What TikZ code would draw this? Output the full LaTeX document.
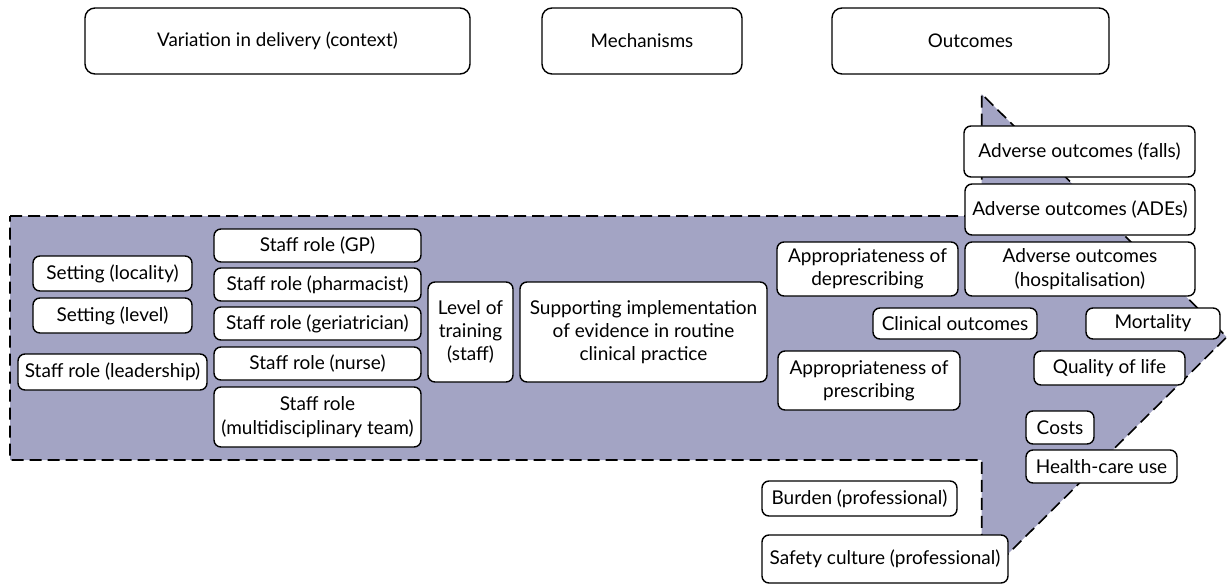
\documentclass[tikz,border=0pt]{standalone}
\usepackage{fontspec}
\setmainfont{Lato}
\usepackage{tikz}
\definecolor{arrowfill}{RGB}{163,164,196}

\begin{document}
\begin{tikzpicture}[x=1pt, y=-1pt,
    box/.style = {draw, fill=white, line width=1.4pt, rounded corners=7pt, align=center, inner sep=0pt, font=\fontsize{19}{23.3}\selectfont},
    head/.style = {box, rounded corners=10pt, minimum height=66pt, font=\fontsize{18.8}{22}\selectfont},
    band/.style = {draw, dashed, dash pattern=on 12pt off 6pt, line width=1.6pt, fill=arrowfill}]
    \useasboundingbox (0,0) rectangle (1227,584);

    \node[head, minimum width=385pt] (context) at (277.5,41) {Variation in delivery (context)};
    \node[head, minimum width=200pt] (mechanisms) at (642,41) {Mechanisms};
    \node[head, minimum width=277pt] (outcomes) at (970.5,41) {Outcomes};

    \draw[band] (10,216) -- (981.7,216) -- (981.7,94) -- (1226.7,337) -- (981.7,580) -- (981.7,460) -- (10,460) -- cycle;

    \node[box, minimum width=159pt, minimum height=35pt] (locality) at (112.5,273.5) {Setting (locality)};
    \node[box, minimum width=159pt, minimum height=35pt] (level) at (112.5,315.5) {Setting (level)};
    \node[box, minimum width=189pt, minimum height=36pt] (leadership) at (112.5,372) {Staff role (leadership)};

    \node[box, minimum width=207pt, minimum height=33pt] (gp) at (317.5,245.5) {Staff role (GP)};
    \node[box, minimum width=207pt, minimum height=33pt] (pharmacist) at (317.5,284.5) {Staff role (pharmacist)};
    \node[box, minimum width=207pt, minimum height=33pt] (geriatrician) at (317.5,323.5) {Staff role (geriatrician)};
    \node[box, minimum width=207pt, minimum height=33pt] (nurse) at (317.5,363.5) {Staff role (nurse)};
    \node[box, minimum width=207pt, minimum height=60pt] (mdt) at (317.5,417) {Staff role\\(multidisciplinary team)};

    \node[box, minimum width=85pt, minimum height=100pt] (training) at (470.5,332) {Level of\\training\\(staff)};
    \node[box, minimum width=247pt, minimum height=100pt] (supporting) at (643.5,332) {Supporting implementation\\of evidence in routine\\clinical practice};

    \node[box, minimum width=181pt, minimum height=54pt] (deprescribing) at (867.5,269) {Appropriateness of\\deprescribing};
    \node[box, minimum width=182pt, minimum height=59pt] (prescribing) at (869,380.5) {Appropriateness of\\prescribing};
    \node[box, minimum width=164pt, minimum height=31pt] (clinical) at (955,323.5) {Clinical outcomes};

    \node[box, minimum width=231pt, minimum height=51pt] (falls) at (1079.5,151.5) {Adverse outcomes (falls)};
    \node[box, minimum width=230pt, minimum height=51pt] (ades) at (1080,209.5) {Adverse outcomes (ADEs)};
    \node[box, minimum width=230pt, minimum height=54pt] (hospitalisation) at (1080,269) {Adverse outcomes\\(hospitalisation)};
    \node[box, minimum width=134pt, minimum height=31pt] (mortality) at (1153,323.5) {Mortality};
    \node[box, minimum width=151pt, minimum height=34pt] (quality) at (1109.5,368) {Quality of life};
    \node[box, minimum width=68pt, minimum height=33pt] (costs) at (1060,427.5) {Costs};
    \node[box, minimum width=151pt, minimum height=33pt] (healthcare) at (1101.5,466.5) {Health-care use};

    \node[box, minimum width=195pt, minimum height=35pt] (burden) at (859.5,498.5) {Burden (professional)};
    \node[box, minimum width=246pt, minimum height=48pt] (safety) at (885,559) {Safety culture (professional)};
\end{tikzpicture}
\end{document}
